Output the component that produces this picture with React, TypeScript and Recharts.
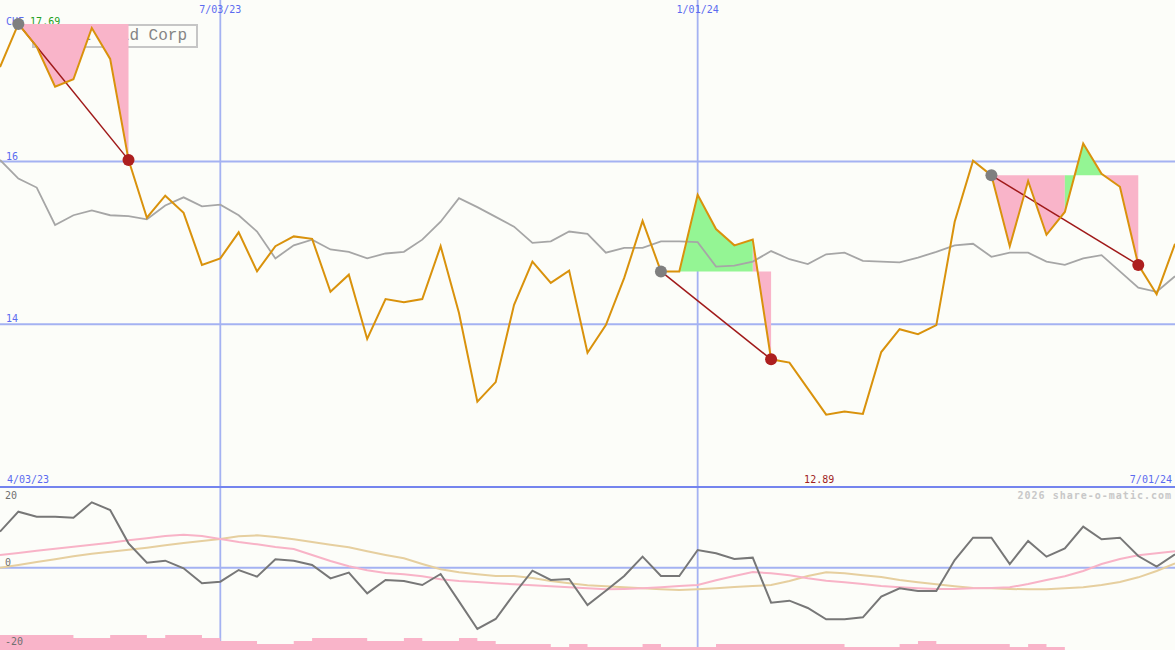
import React from 'react';
import { ComposedChart, Line, Area, XAxis, YAxis, CartesianGrid } from 'recharts';

const MONO = '"DejaVu Sans Mono", "Liberation Mono", monospace';

// weekly closes, 65 weeks
const weeks = Array.from({ length: 65 }, (_, i) => i);
const gridWeeks = [12, 38];
const gridDates = ['7/03/23', '1/01/24'];
const firstDate = '4/03/23';
const lastDate = '7/01/24';
const currency = 'CHF';
const companyName = 'Royal Gold Corp';

const price = [
  17.16, 17.69, 17.41, 16.92, 17.01, 17.64, 17.26, 16.02, 15.31, 15.58,
  15.37, 14.73, 14.81, 15.13, 14.65, 14.96, 15.08, 15.05, 14.40, 14.61,
  13.82, 14.31, 14.27, 14.31, 14.96, 14.14, 13.05, 13.29, 14.24, 14.77,
  14.51, 14.66, 13.65, 13.99, 14.57, 15.27, 14.65, 14.65, 15.59, 15.17,
  14.97, 15.04, 13.57, 13.53, 13.21, 12.89, 12.93, 12.90, 13.66, 13.94,
  13.88, 13.99, 15.26, 16.01, 15.83, 14.96, 15.76, 15.10, 15.38, 16.22,
  15.85, 15.69, 14.73, 14.37, 14.99,
];

const avg = [
  16.02, 15.79, 15.68, 15.22, 15.34, 15.40, 15.34, 15.33, 15.29, 15.46,
  15.56, 15.45, 15.47, 15.34, 15.14, 14.81, 14.97, 15.04, 14.92, 14.89,
  14.81, 14.87, 14.89, 15.04, 15.26, 15.55, 15.44, 15.32, 15.20, 15.00,
  15.02, 15.14, 15.11, 14.88, 14.94, 14.94, 15.02, 15.02, 15.01, 14.71,
  14.72, 14.77, 14.90, 14.80, 14.74, 14.86, 14.88, 14.78, 14.77, 14.76,
  14.82, 14.89, 14.97, 14.99, 14.83, 14.88, 14.88, 14.77, 14.73, 14.81,
  14.85, 14.65, 14.45, 14.40, 14.59,
];

// signal windows (start week, end week)
const signalStart = [1, 36, 54];
const signalEnd = [7, 42, 62];

const momentum = [
  10.8, 16.8, 15.3, 15.3, 15.0, 19.6, 17.3, 7.3, 1.5, 2.1,
  -0.2, -4.7, -4.2, -0.7, -2.7, 2.5, 2.1, 0.8, -3.2, -1.5,
  -7.7, -3.7, -4.0, -5.2, -1.9, -10.1, -18.4, -15.4, -7.9, -0.9,
  -3.7, -3.4, -11.2, -6.9, -2.5, 3.3, -2.5, -2.5, 5.3, 4.3,
  2.6, 3.0, -10.5, -9.9, -12.1, -15.5, -15.5, -14.9, -8.7, -6.2,
  -7.0, -7.0, 2.3, 9.0, 9.0, 1.1, 8.0, 3.3, 5.8, 12.3,
  8.5, 9.0, 3.5, 0.3, 4.0,
];

const fastAvg = [
  3.8, 4.4, 5.1, 5.7, 6.3, 6.9, 7.5, 8.2, 8.8, 9.5,
  9.9, 9.5, 8.6, 7.7, 7.0, 6.2, 5.6, 3.8, 2.0, 0.4,
  -0.8, -1.6, -2.0, -2.6, -3.5, -4.0, -4.3, -4.7, -5.0, -5.3,
  -5.6, -5.9, -6.2, -6.5, -6.4, -6.2, -5.9, -5.5, -5.2, -3.8,
  -2.5, -1.3, -1.7, -2.3, -3.2, -3.9, -4.4, -4.9, -5.5, -5.9,
  -6.2, -6.4, -6.4, -6.2, -6.1, -5.9, -4.9, -3.7, -2.6, -1.0,
  1.1, 2.6, 3.7, 4.3, 4.9,
];

const slowAvg = [
  0.0, 0.8, 1.7, 2.5, 3.4, 4.2, 4.8, 5.4, 6.0, 6.7,
  7.4, 8.0, 8.6, 9.4, 9.7, 9.2, 8.5, 7.7, 6.9, 6.1,
  4.9, 3.8, 2.8, 1.1, -0.5, -1.4, -2.0, -2.5, -2.5, -3.1,
  -4.0, -4.7, -5.3, -5.6, -5.9, -6.2, -6.5, -6.7, -6.5, -6.2,
  -5.8, -5.5, -5.2, -4.0, -2.5, -1.4, -1.7, -2.3, -2.8, -3.7,
  -4.4, -5.0, -5.6, -6.1, -6.2, -6.4, -6.5, -6.5, -6.2, -5.9,
  -5.2, -4.3, -2.9, -1.0, 1.3,
];

const volume = [
  5, 5, 5, 5, 4, 4, 5, 5, 4, 5,
  5, 4, 3, 3, 2, 2, 3, 4, 4, 4,
  3, 3, 4, 3, 3, 4, 3, 2, 2, 2,
  1, 2, 1, 1, 1, 2, 1, 1, 1, 2,
  2, 2, 2, 2, 2, 2, 1, 1, 1, 2,
  3, 2, 2, 2, 2, 1, 2, 1, 0, 0,
  0, 0, 0, 0, 0,
];

const minPrice = Math.min(...price);
const minWeek = price.indexOf(minPrice);
const maxPrice = Math.max(...price);
const lastWeek = weeks[weeks.length - 1];

// fill between signal level and price, coloured by where each segment ends
const fillUp: ([number, number] | null)[] = weeks.map(() => null);
const fillDown: ([number, number] | null)[] = weeks.map(() => null);
signalStart.forEach((s, k) => {
  const ref = price[s];
  for (let i = s + 1; i <= signalEnd[k]; i++) {
    const target = price[i] > ref ? fillUp : fillDown;
    target[i - 1] = [ref, price[i - 1]];
    target[i] = [ref, price[i]];
  }
});

const topData = weeks.map((i) => {
  const row: any = { i, price: price[i], avg: avg[i], up: fillUp[i], down: fillDown[i] };
  signalStart.forEach((s, k) => {
    row['t' + k] = i === s || i === signalEnd[k] ? price[i] : null;
  });
  return row;
});

const lowData = weeks.map((i) => ({
  i,
  mom: momentum[i],
  fast: fastAvg[i],
  slow: slowAvg[i],
  vol: volume[i],
}));

const signalDot = (props: any) => {
  const { cx, cy, index, value } = props;
  if (value == null || cx == null || cy == null) return <g key={'d' + index} />;
  const isStart = signalStart.includes(index);
  return <circle key={'d' + index} cx={cx} cy={cy} r={6} fill={isStart ? '#7f7f7f' : '#ad1f1f'} />;
};

const TopTick = (props: any) => {
  const k = gridWeeks.indexOf(props.payload.value);
  return (
    <text x={props.x} y={12.5} textAnchor="middle" fontFamily={MONO} fontSize={10} fill="#5b6bf0">
      {gridDates[k]}
    </text>
  );
};

const BottomTick = (props: any) => {
  const v = props.payload.value;
  if (v === 0)
    return (
      <text x={props.x + 7} y={483} textAnchor="start" fontFamily={MONO} fontSize={10} fill="#5b6bf0">
        {firstDate}
      </text>
    );
  if (v === lastWeek)
    return (
      <text x={props.x - 3} y={483} textAnchor="end" fontFamily={MONO} fontSize={10} fill="#5b6bf0">
        {lastDate}
      </text>
    );
  return (
    <text x={props.x - 7} y={483} textAnchor="middle" fontFamily={MONO} fontSize={10} fill="#a01e1e">
      {minPrice.toFixed(2)}
    </text>
  );
};

const PriceTick = (props: any) => (
  <text x={6} y={props.y - 2} textAnchor="start" fontFamily={MONO} fontSize={10} fill="#5b6bf0">
    {props.payload.value}
  </text>
);

const OscTick = (props: any) => {
  const v = props.payload.value;
  return (
    <text x={5} y={v < 0 ? props.y + 11 : props.y - 2} textAnchor="start" fontFamily={MONO} fontSize={10} fill="#707070">
      {v}
    </text>
  );
};

export default function App() {
  return (
    <div
      style={{
        position: 'absolute',
        left: 0,
        top: 0,
        width: 1175,
        height: 650,
        background: '#fcfdf9',
        overflow: 'hidden',
        fontFamily: MONO,
      }}
    >
      <div
        style={{
          position: 'absolute',
          left: 32,
          top: 24,
          width: 166,
          height: 24,
          border: '2px solid #c6c6c6',
          boxSizing: 'border-box',
        }}
      >
        <span
          style={{
            position: 'absolute',
            right: 9,
            top: 1,
            fontFamily: '"Liberation Mono", monospace',
            fontSize: 16,
            lineHeight: '18px',
            color: '#858585',
            whiteSpace: 'nowrap',
          }}
        >
          {companyName}
        </span>
      </div>
      <div style={{ position: 'absolute', left: 6, top: 15.5, fontSize: 10, lineHeight: '12px', whiteSpace: 'pre' }}>
        <span style={{ color: '#5b6bf0' }}>{currency} </span>
        <span style={{ color: '#22a022' }}>{maxPrice.toFixed(2)}</span>
      </div>
      <div
        style={{
          position: 'absolute',
          right: 3,
          top: 490,
          fontSize: 10,
          lineHeight: '12px',
          letterSpacing: 1,
          fontWeight: 'bold',
          color: '#c8c8c8',
        }}
      >
        2026 share-o-matic.com
      </div>

      <div style={{ position: 'absolute', left: 0, top: 0 }}>
        <ComposedChart width={1175} height={486} data={topData} margin={{ top: 0, right: 0, bottom: 0, left: 0 }}>
          <CartesianGrid vertical={false} horizontalValues={[14, 16]} stroke="#a4b2f2" strokeWidth={2} />
          <CartesianGrid horizontal={false} verticalValues={gridWeeks} stroke="#a4b2f2" strokeWidth={1.8} />
          <XAxis
            dataKey="i"
            type="number"
            domain={[0, lastWeek]}
            orientation="top"
            mirror
            height={20}
            ticks={gridWeeks}
            interval={0}
            tick={<TopTick />}
            axisLine={false}
            tickLine={false}
          />
          <XAxis
            xAxisId="b"
            dataKey="i"
            type="number"
            domain={[0, lastWeek]}
            orientation="bottom"
            mirror
            height={20}
            ticks={[0, minWeek, lastWeek]}
            interval={0}
            tick={<BottomTick />}
            axisLine={false}
            tickLine={false}
          />
          <YAxis
            type="number"
            domain={[12.014, 17.984]}
            ticks={[14, 16]}
            mirror
            width={40}
            tick={<PriceTick />}
            axisLine={false}
            tickLine={false}
            allowDataOverflow
          />
          <Area dataKey="down" type="linear" stroke="none" fill="#f9b4c9" fillOpacity={1} activeDot={false} isAnimationActive={false} />
          <Area dataKey="up" type="linear" stroke="none" fill="#94f594" fillOpacity={1} activeDot={false} isAnimationActive={false} />
          <Line dataKey="avg" type="linear" stroke="#a6a6a6" strokeWidth={1.8} dot={false} activeDot={false} isAnimationActive={false} />
          {signalStart.map((s, k) => (
            <Line
              key={'t' + k}
              dataKey={'t' + k}
              type="linear"
              stroke="#a01a1a"
              strokeWidth={1.5}
              connectNulls
              dot={signalDot}
              activeDot={false}
              isAnimationActive={false}
            />
          ))}
          <Line dataKey="price" type="linear" stroke="#d9920c" strokeWidth={2} dot={false} activeDot={false} isAnimationActive={false} />
        </ComposedChart>
      </div>

      <div style={{ position: 'absolute', left: 0, top: 486, width: 1175, height: 2, background: '#7484ee' }} />

      <div style={{ position: 'absolute', left: 0, top: 488 }}>
        <ComposedChart width={1175} height={162} data={lowData} margin={{ top: 0, right: 0, bottom: 0, left: 0 }}>
          <CartesianGrid vertical={false} horizontalValues={[0]} stroke="#a4b2f2" strokeWidth={2} />
          <CartesianGrid horizontal={false} verticalValues={gridWeeks} stroke="#a4b2f2" strokeWidth={1.8} />
          <XAxis dataKey="i" type="number" domain={[0, lastWeek]} hide />
          <YAxis
            type="number"
            domain={[-24.7, 23.9]}
            ticks={[-20, 0, 20]}
            mirror
            width={40}
            tick={<OscTick />}
            axisLine={false}
            tickLine={false}
            allowDataOverflow
          />
          <YAxis yAxisId="vol" type="number" domain={[0, 54]} hide allowDataOverflow />
          <Area
            yAxisId="vol"
            dataKey="vol"
            type="stepAfter"
            stroke="none"
            fill="#f9b4c9"
            fillOpacity={1}
            activeDot={false}
            isAnimationActive={false}
          />
          <Line dataKey="slow" type="linear" stroke="#e6cf9f" strokeWidth={2} dot={false} activeDot={false} isAnimationActive={false} />
          <Line dataKey="fast" type="linear" stroke="#f8b3c7" strokeWidth={2} dot={false} activeDot={false} isAnimationActive={false} />
          <Line dataKey="mom" type="linear" stroke="#777777" strokeWidth={2} dot={false} activeDot={false} isAnimationActive={false} />
        </ComposedChart>
      </div>
    </div>
  );
}
